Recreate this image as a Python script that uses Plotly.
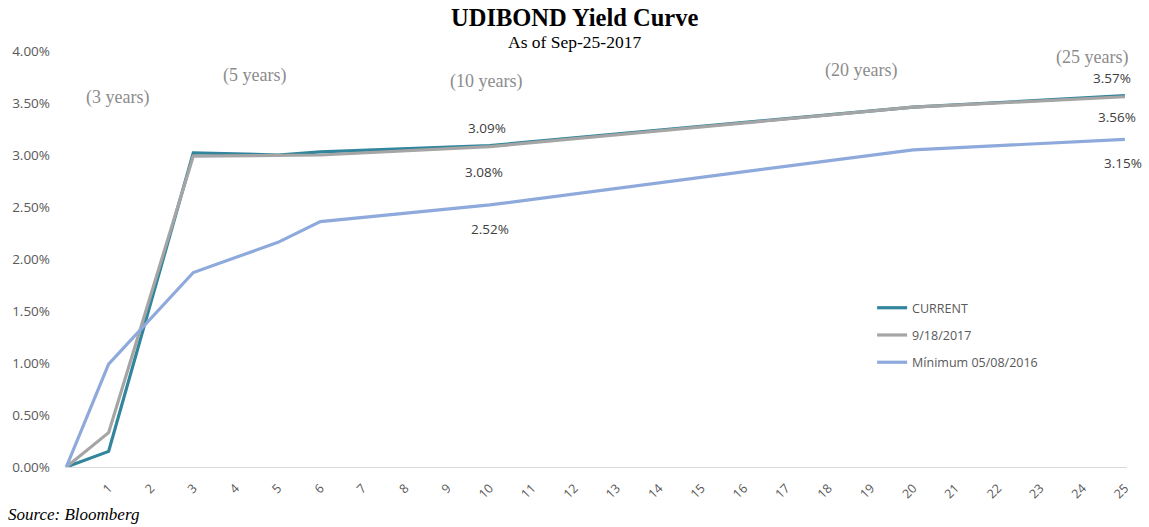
import plotly.graph_objects as go

tenors = [0, 1, 3, 5, 6, 10, 20, 25]
current = [0.0, 0.15, 3.02, 3.00, 3.03, 3.09, 3.46, 3.57]
prev_week = [0.0, 0.33, 2.99, 3.00, 3.00, 3.08, 3.46, 3.56]
minimum = [0.0, 0.99, 1.87, 2.16, 2.36, 2.52, 3.05, 3.15]
series_names = ["CURRENT", "9/18/2017", "Mínimum 05/08/2016"]
x_ticks = list(range(1, 26))
y_ticks = [0.0, 0.5, 1.0, 1.5, 2.0, 2.5, 3.0, 3.5, 4.0]
tenor_texts = ["(3 years)", "(5 years)", "(10 years)", "(20 years)", "(25 years)"]

colors = ["#31859C", "#A5A5A5", "#8EA9DB"]
# label placement (x in axis units, y in % units)
tenor_pos = [(1.22, 3.55), (4.45, 3.76), (9.91, 3.71), (18.76, 3.81), (24.22, 3.94)]

fig = go.Figure()
for i, (name, vals) in enumerate(zip(series_names, [current, prev_week, minimum])):
    fig.add_trace(go.Scatter(x=tenors, y=vals, mode="lines", name=name,
                             legendgroup=f"g{i}",
                             line=dict(color=colors[i], width=3.2)))

for txt, (xp, yp) in zip(tenor_texts, tenor_pos):
    fig.add_annotation(x=xp, y=yp, text=txt, showarrow=False,
                       font=dict(family="Liberation Serif", size=18, color="#8C8C8C"))

def lbl(x, y, val, dx, dy):
    fig.add_annotation(x=x, y=y, text=f"{val:.2f}%", showarrow=False, xshift=dx, yshift=dy,
                       font=dict(family="Open Sans, Liberation Sans", size=13.5, color="#404040"))

idx10 = tenors.index(10)
idx25 = tenors.index(25)
lbl(10, current[idx10], current[idx10], -3, 18)
lbl(10, prev_week[idx10], prev_week[idx10], -6, -25)
lbl(10, minimum[idx10], minimum[idx10], 0, -24)
lbl(25, current[idx25], current[idx25], -13, 18)
lbl(25, prev_week[idx25], prev_week[idx25], -8, -20)
lbl(25, minimum[idx25], minimum[idx25], -2, -24)

fig.add_annotation(x=0.5, y=1.0, xref="paper", yref="paper", yanchor="middle",
                   text="<b>UDIBOND Yield Curve</b>", showarrow=False, yshift=34, xshift=-22,
                   font=dict(family="Liberation Serif", size=24.5, color="#000000"))
fig.add_annotation(x=0.5, y=1.0, xref="paper", yref="paper", yanchor="middle",
                   text="As of Sep-25-2017", showarrow=False, yshift=9, xshift=-22,
                   font=dict(family="Liberation Serif", size=17.5, color="#000000"))
fig.add_annotation(x=0, y=0, xref="paper", yref="paper", xanchor="left", yanchor="middle",
                   text="<i>Source: Bloomberg</i>", showarrow=False, xshift=-59, yshift=-47,
                   font=dict(family="Liberation Serif", size=17, color="#000000"))

fig.update_layout(
    width=1149, height=527,
    margin=dict(l=65, r=22, t=51, b=60),
    plot_bgcolor="white", paper_bgcolor="white",
    showlegend=True,
    legend=dict(x=0.76, y=0.418, xanchor="left", yanchor="top",
                font=dict(family="Open Sans, Liberation Sans", size=12.5, color="#595959"),
                tracegroupgap=8, bgcolor="rgba(0,0,0,0)"),
    xaxis=dict(range=[-0.03, 25.05], tickmode="array", tickvals=x_ticks,
               ticktext=[str(t) for t in x_ticks], tickangle=-45, ticklabelstandoff=8,
               showgrid=False, zeroline=False, showline=True, linecolor="#D9D9D9", linewidth=1,
               ticks="", automargin=False,
               tickfont=dict(family="Open Sans, Liberation Sans", size=12.5, color="#595959")),
    yaxis=dict(range=[0, 4.0], tickmode="array", tickvals=y_ticks,
               ticktext=[f"{v:.2f}%" for v in y_ticks], automargin=False, ticklabelstandoff=14,
               showgrid=False, zeroline=False, showline=False, ticks="",
               tickfont=dict(family="Open Sans, Liberation Sans", size=13.5, color="#595959")),
)

fig.write_html("out.html", config={"displayModeBar": False},
               post_script="document.body.style.margin='0';document.body.style.overflow='hidden';")
